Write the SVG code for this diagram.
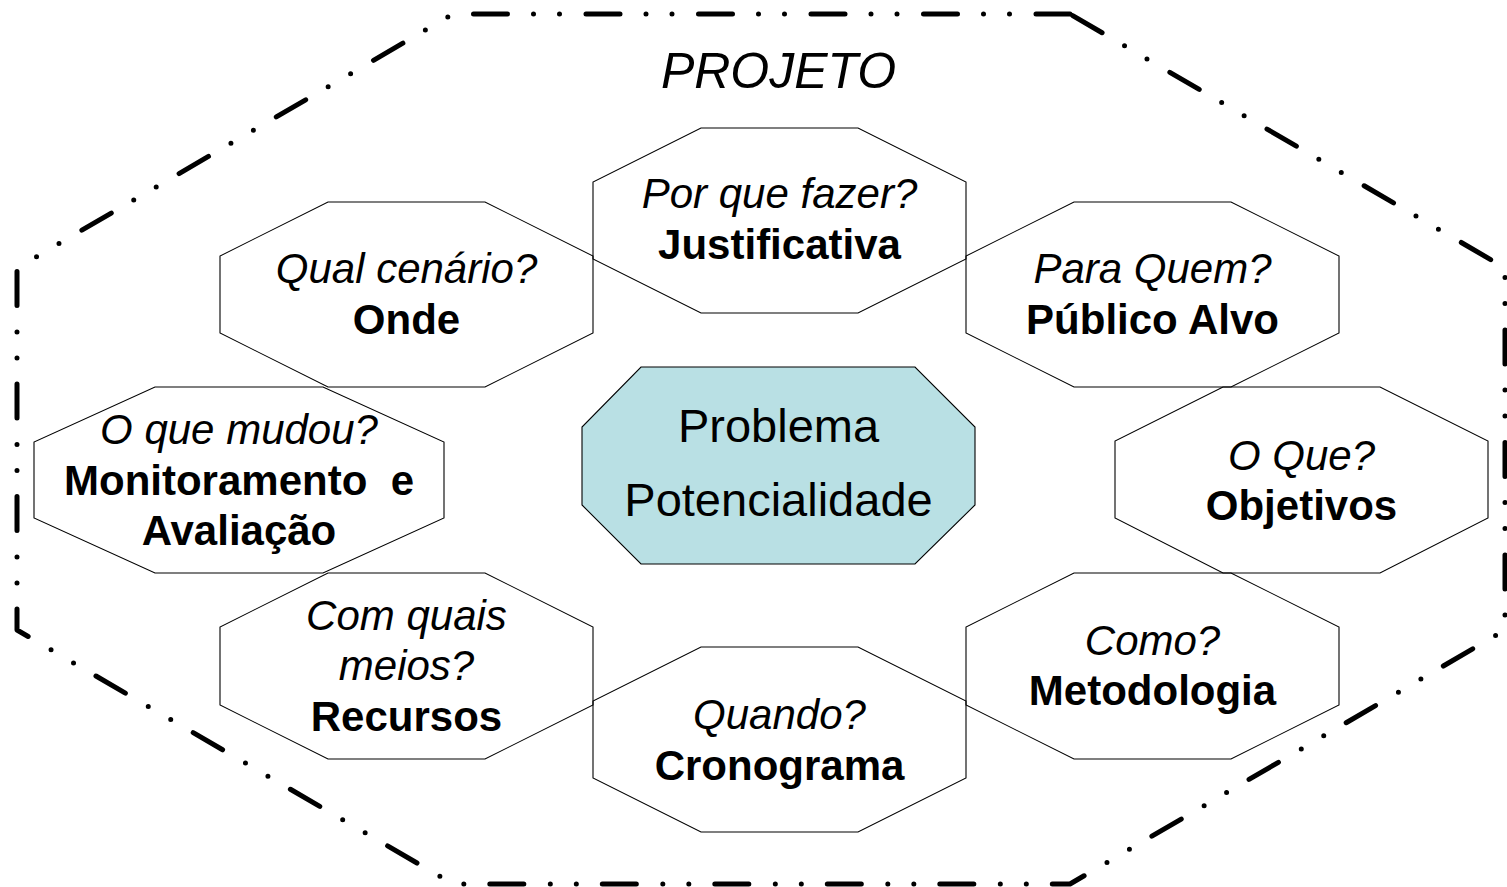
<svg xmlns="http://www.w3.org/2000/svg" width="1507" height="887" viewBox="0 0 1507 887">
<style>
.oct{fill:none;stroke:#000;stroke-width:1.1;stroke-linejoin:miter}
.ctr{fill:#B9E0E4;stroke:#000;stroke-width:1.1}
.outer{fill:none;stroke:#000;stroke-width:5;stroke-linecap:round;stroke-linejoin:round;stroke-dasharray:34 26.5 0 26 0 26}
text{font-family:"Liberation Sans",Arial,sans-serif;text-anchor:middle;fill:#000}
.q{font-size:42px;font-style:italic}
.a{font-size:42px;font-weight:bold}
.c{font-size:47px}
.t{font-size:50px;font-style:italic}
</style>
<rect width="1507" height="887" fill="#fff"/>
<g id="projeto">
<path class="outer" d="M1070,14 L453,14 L17,268 L17,630 L453,884 L1070,884 L1505,630 L1505,268 Z"/>
<text class="t" x="778.5" y="88">PROJETO</text>
</g>
<g id="justificativa">
<polygon class="oct" points="701,128 858,128 966,182 966,259 858,313 701,313 593,259 593,182"/>
<text class="q" x="779.5" y="208">Por que fazer?</text>
<text class="a" x="779.5" y="259">Justificativa</text>
</g>
<g id="onde">
<polygon class="oct" points="328,202 485,202 593,256 593,333 485,387 328,387 220,333 220,256"/>
<text class="q" x="406.5" y="283">Qual cenário?</text>
<text class="a" x="406.5" y="334">Onde</text>
</g>
<g id="publico">
<polygon class="oct" points="1074,202 1231,202 1339,256 1339,333 1231,387 1074,387 966,333 966,256"/>
<text class="q" x="1152.5" y="283">Para Quem?</text>
<text class="a" x="1152.5" y="334">Público Alvo</text>
</g>
<g id="objetivos">
<polygon class="oct" points="1223,387 1380,387 1488,441 1488,518 1380,573 1223,573 1115,518 1115,441"/>
<text class="q" x="1301.5" y="470">O Que?</text>
<text class="a" x="1301.5" y="520">Objetivos</text>
</g>
<g id="metodologia">
<polygon class="oct" points="1074,573 1231,573 1339,627 1339,705 1231,759 1074,759 966,705 966,627"/>
<text class="q" x="1152.5" y="655">Como?</text>
<text class="a" x="1152.5" y="705">Metodologia</text>
</g>
<g id="cronograma">
<polygon class="oct" points="701,647 858,647 966,701 966,778 858,832 701,832 593,778 593,701"/>
<text class="q" x="779.5" y="729">Quando?</text>
<text class="a" x="779.5" y="780">Cronograma</text>
</g>
<g id="recursos">
<polygon class="oct" points="328,573 485,573 593,627 593,705 485,759 328,759 220,705 220,627"/>
<text class="q" x="406.5" y="630">Com quais</text>
<text class="q" x="406.5" y="680">meios?</text>
<text class="a" x="406.5" y="731">Recursos</text>
</g>
<g id="monitoramento">
<polygon class="oct" points="155,387 323,387 444,442 444,518 323,573 155,573 34,518 34,442"/>
<text class="q" x="239" y="444">O que mudou?</text>
<text class="a" x="239" y="495" xml:space="preserve">Monitoramento  e</text>
<text class="a" x="239" y="545">Avaliação</text>
</g>
<g id="problema">
<polygon class="ctr" points="641,367 915,367 975,427 975,505 915,564 641,564 582,505 582,427"/>
<text class="c" x="778.5" y="442">Problema</text>
<text class="c" x="778.5" y="516">Potencialidade</text>
</g>
<g id="connectors"/>
</svg>
